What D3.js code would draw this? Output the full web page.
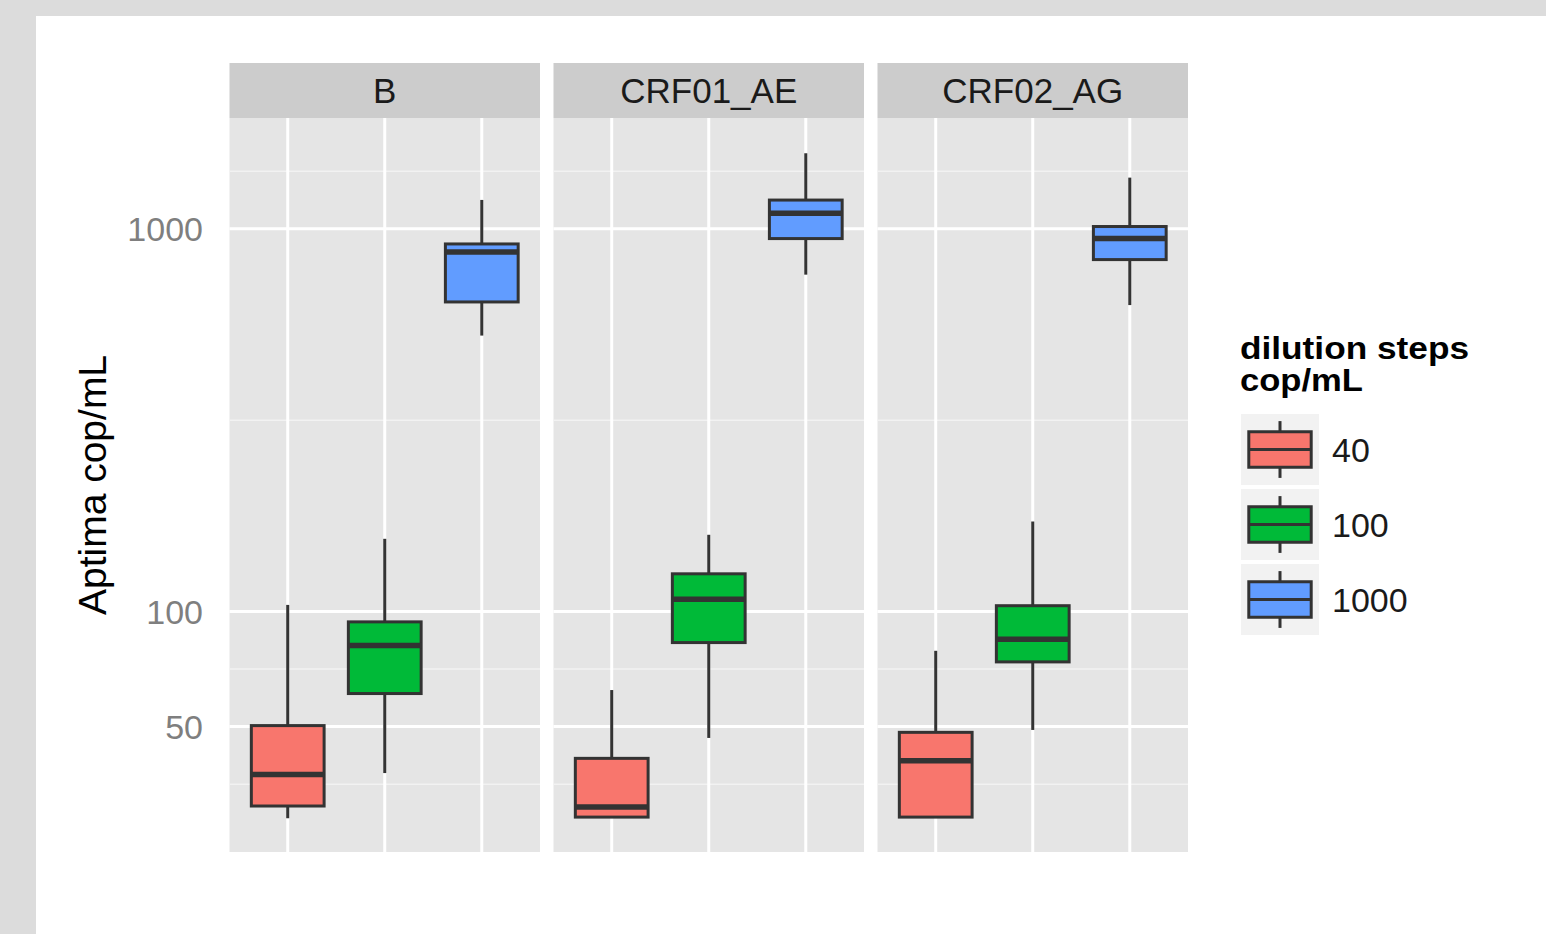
<!DOCTYPE html>
<html>
<head>
<meta charset="utf-8">
<script src="https://cdn.jsdelivr.net/npm/d3@7"></script>
<style>
  html, body { margin: 0; padding: 0; background: #dcdcdc; }
  svg { display: block; font-family: "Liberation Sans", Arial, Helvetica, sans-serif; }
</style>
</head>
<body>
<div id="chart"></div>
<script>
// facets and dilution steps
var subtypes = ["B", "CRF01_AE", "CRF02_AG"];
var dilutions = ["40", "100", "1000"];
var fills = ["#F8766D", "#00BA38", "#619CFF"];

// box stats, one row per dilution: [lower, q1, median, q3, upper]
var statsB  = [[28.8, 31.0, 37.5, 50.3, 104.0], [37.8, 61.0, 81.4, 93.9, 154.8], [526, 644, 870, 913, 1190]];
var statsAE = [[28.9, 29.0, 30.8, 41.3, 62.3],  [46.7, 82.9, 107.6, 125.4, 158.6], [759, 943, 1098, 1189, 1576]];
var statsAG = [[28.9, 29.0, 40.7, 48.3, 78.9],  [49.0, 73.8, 84.6, 103.5, 171.8], [632, 831, 943, 1014, 1361]];

var yBreaks = [50, 100, 1000];
var yTitle = "Aptima cop/mL";
var legendTitle = ["dilution steps", "cop/mL"];

var W = 1546, H = 934;
var panelTop = 118, panelBottom = 852, stripTop = 63;

var allStats = [statsB, statsAE, statsAG];
var rows = [];
subtypes.forEach(function(s, i) {
  allStats[i].forEach(function(st, j) {
    rows.push({subtype: s, dilution: dilutions[j], fill: fills[j],
      lower: st[0], q1: st[1], median: st[2], q3: st[3], upper: st[4]});
  });
});

var svg = d3.select("#chart").append("svg")
  .attr("width", W).attr("height", H);

svg.append("rect").attr("width", W).attr("height", H).attr("fill", "#dcdcdc");
svg.append("rect").attr("x", 36).attr("y", 16).attr("width", W - 36).attr("height", H - 16).attr("fill", "#ffffff");

// y scale (log10) with 5% expansion like ggplot
var lo = Math.log10(d3.min(rows, function(d) { return d.lower; }));
var hi = Math.log10(d3.max(rows, function(d) { return d.upper; }));
var pad = (hi - lo) * 0.05;
var y = d3.scaleLog()
  .domain([Math.pow(10, lo - pad), Math.pow(10, hi + pad)])
  .range([panelBottom - 0.5, panelTop + 2]);

// minor breaks: midpoints in log space, extended one step each side
var lb = yBreaks.map(Math.log10);
var bd = lb[1] - lb[0];
var ext = [lb[0] - bd].concat(lb, [lb[lb.length - 1] + bd]);
var minor = [];
for (var k = 0; k < ext.length - 1; k++) {
  var m = Math.pow(10, (ext[k] + ext[k + 1]) / 2);
  if (m > y.domain()[0] && m < y.domain()[1]) minor.push(m);
}

var fx = d3.scaleBand().domain(subtypes).range([229.5, 1188]).paddingInner(13.5 / 324);
var pw = fx.bandwidth();
var x = d3.scaleBand().domain(dilutions).range([0, pw]).paddingInner(0).paddingOuter(0.1);
var bw = x.bandwidth() * 0.75;

var panels = svg.selectAll("g.panel").data(subtypes).enter().append("g")
  .attr("class", "panel")
  .attr("transform", function(d) { return "translate(" + fx(d) + ",0)"; });

panels.append("rect")
  .attr("x", 0).attr("y", panelTop).attr("width", pw).attr("height", panelBottom - panelTop)
  .attr("fill", "#e5e5e5");

panels.selectAll("line.minor").data(minor).enter().append("line")
  .attr("x1", 0).attr("x2", pw)
  .attr("y1", function(d) { return y(d); }).attr("y2", function(d) { return y(d); })
  .attr("stroke", "#f2f2f2").attr("stroke-width", 1.5);

panels.selectAll("line.major").data(yBreaks).enter().append("line")
  .attr("x1", 0).attr("x2", pw)
  .attr("y1", function(d) { return y(d); }).attr("y2", function(d) { return y(d); })
  .attr("stroke", "#ffffff").attr("stroke-width", 3);

panels.selectAll("line.vgrid").data(dilutions).enter().append("line")
  .attr("x1", function(d) { return x(d) + x.bandwidth() / 2; })
  .attr("x2", function(d) { return x(d) + x.bandwidth() / 2; })
  .attr("y1", panelTop).attr("y2", panelBottom)
  .attr("stroke", "#ffffff").attr("stroke-width", 3);

// strips
panels.append("rect")
  .attr("x", 0).attr("y", stripTop).attr("width", pw).attr("height", panelTop - stripTop)
  .attr("fill", "#cccccc");
panels.append("text")
  .attr("x", pw / 2).attr("y", 103)
  .attr("text-anchor", "middle")
  .attr("font-size", 35).attr("fill", "#1a1a1a")
  .text(function(d) { return d; });

// boxplots
var boxes = panels.selectAll("g.box")
  .data(function(s) { return rows.filter(function(r) { return r.subtype === s; }); })
  .enter().append("g").attr("class", "box");

function cx(d) { return x(d.dilution) + x.bandwidth() / 2; }

boxes.append("line")
  .attr("x1", cx).attr("x2", cx)
  .attr("y1", function(d) { return y(d.upper); }).attr("y2", function(d) { return y(d.q3); })
  .attr("stroke", "#333333").attr("stroke-width", 3);
boxes.append("line")
  .attr("x1", cx).attr("x2", cx)
  .attr("y1", function(d) { return y(d.q1); }).attr("y2", function(d) { return y(d.lower); })
  .attr("stroke", "#333333").attr("stroke-width", 3);
boxes.append("rect")
  .attr("x", function(d) { return cx(d) - bw / 2; })
  .attr("y", function(d) { return y(d.q3); })
  .attr("width", bw)
  .attr("height", function(d) { return y(d.q1) - y(d.q3); })
  .attr("fill", function(d) { return d.fill; })
  .attr("stroke", "#333333").attr("stroke-width", 3);
boxes.append("line")
  .attr("x1", function(d) { return cx(d) - bw / 2; })
  .attr("x2", function(d) { return cx(d) + bw / 2; })
  .attr("y1", function(d) { return y(d.median); }).attr("y2", function(d) { return y(d.median); })
  .attr("stroke", "#333333").attr("stroke-width", 5.5);

// y axis labels
svg.selectAll("text.ytick").data(yBreaks).enter().append("text")
  .attr("x", 203).attr("y", function(d) { return y(d); })
  .attr("dy", "0.36em")
  .attr("text-anchor", "end")
  .attr("font-size", 34).attr("fill", "#7f7f7f")
  .text(function(d) { return d; });

svg.append("text")
  .attr("transform", "translate(106," + (panelTop + panelBottom) / 2 + ") rotate(-90)")
  .attr("text-anchor", "middle")
  .attr("font-size", 39).attr("fill", "#000000")
  .text(yTitle);

// legend
var legend = svg.append("g");
var titleWidths = [229, 123];
legend.selectAll("text.title").data(legendTitle).enter().append("text")
  .attr("x", 1240).attr("y", function(d, i) { return 359 + i * 32; })
  .attr("font-size", 31).attr("font-weight", "bold").attr("fill", "#000000")
  .attr("textLength", function(d, i) { return titleWidths[i]; })
  .attr("lengthAdjust", "spacingAndGlyphs")
  .text(function(d) { return d; });

var kw = 78, kh = 71;
var keys = legend.selectAll("g.key").data(dilutions).enter().append("g")
  .attr("transform", function(d, i) { return "translate(1241," + (414 + i * 75) + ")"; });
keys.append("rect").attr("width", kw).attr("height", kh).attr("fill", "#f2f2f2");
keys.append("line")
  .attr("x1", kw / 2).attr("x2", kw / 2).attr("y1", kh * 0.1).attr("y2", kh * 0.25)
  .attr("stroke", "#333333").attr("stroke-width", 3);
keys.append("line")
  .attr("x1", kw / 2).attr("x2", kw / 2).attr("y1", kh * 0.75).attr("y2", kh * 0.9)
  .attr("stroke", "#333333").attr("stroke-width", 3);
keys.append("rect")
  .attr("x", kw * 0.1).attr("y", kh * 0.25).attr("width", kw * 0.8).attr("height", kh * 0.5)
  .attr("fill", function(d, i) { return fills[i]; })
  .attr("stroke", "#333333").attr("stroke-width", 3);
keys.append("line")
  .attr("x1", kw * 0.1).attr("x2", kw * 0.9).attr("y1", kh / 2).attr("y2", kh / 2)
  .attr("stroke", "#333333").attr("stroke-width", 3);
keys.append("text")
  .attr("x", 91).attr("y", kh / 2).attr("dy", "0.36em")
  .attr("font-size", 34).attr("fill", "#1a1a1a")
  .text(function(d) { return d; });
</script>
</body>
</html>
